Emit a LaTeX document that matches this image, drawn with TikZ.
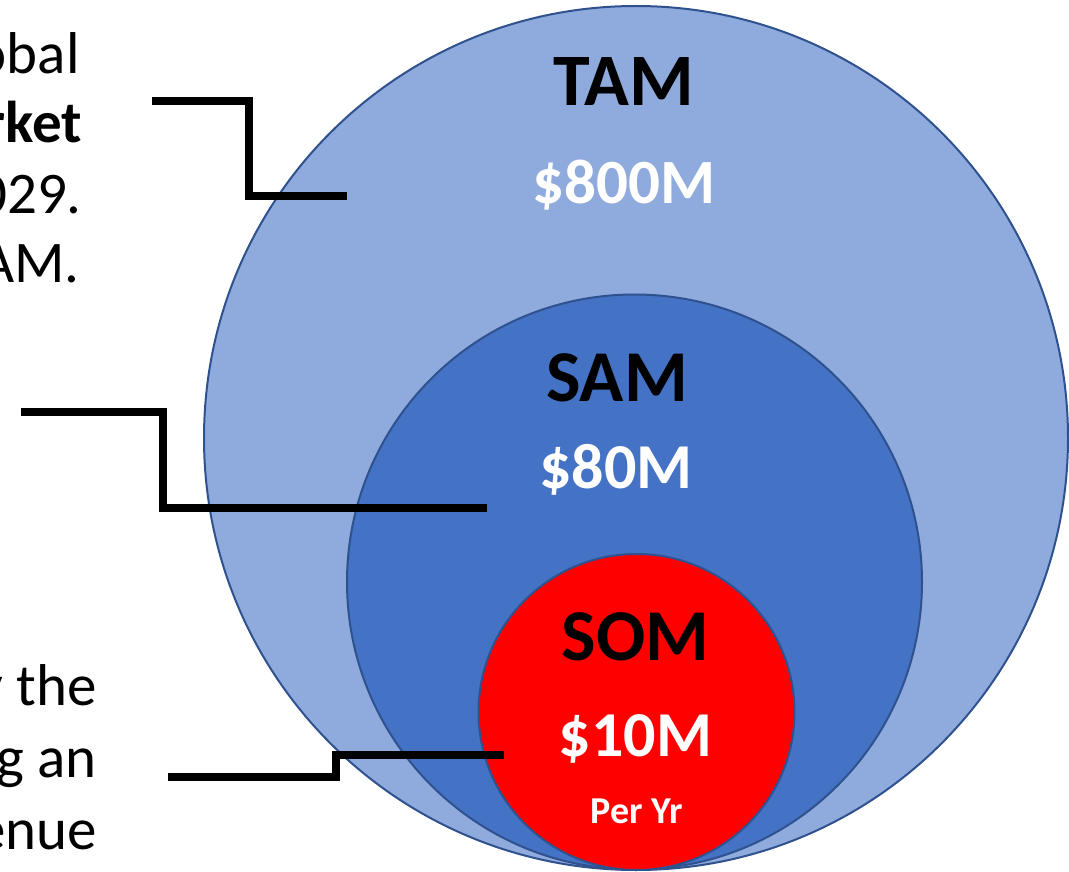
\documentclass[tikz,border=0pt]{standalone}
\usepackage{fontspec}
\setmainfont{Carlito}
\definecolor{tamfill}{HTML}{8FAADC}
\definecolor{samfill}{HTML}{4472C4}
\definecolor{somfill}{HTML}{FF0000}
\definecolor{ringline}{HTML}{2F528F}
\tikzset{
  ring/.style={circle, draw=ringline, line width=2pt, inner sep=0pt},
  leader/.style={draw=black, line width=8pt, line join=miter, line cap=butt},
  lefttext/.style={anchor=base east, inner sep=0pt, font=\fontsize{59}{70}\selectfont},
  head/.style={anchor=base, inner sep=0pt, text=black, font=\bfseries\fontsize{#1}{#1}\selectfont},
  amount/.style={anchor=base, inner sep=0pt, text=white, font=\bfseries\fontsize{#1}{#1}\selectfont}
}
\begin{document}
\begin{tikzpicture}[x=1pt, y=-1pt]
\useasboundingbox (0,0) rectangle (1069,872);
% circles
\node[ring, fill=tamfill, minimum size=864pt] (tam) at (636,438) {};
\node[ring, fill=samfill, minimum size=575pt] (sam) at (634.5,582) {};
\node[ring, fill=somfill, minimum size=316pt] (som) at (636.5,712) {};
% left texts
\node[lefttext] (t1) at (80,74) {obal};
\node[lefttext, font=\bfseries\fontsize{59}{70}\selectfont] (t2) at (82,143) {rket};
\node[lefttext] (t3) at (82,213) {029.};
\node[lefttext] (t4) at (80,282) {AM.};
\node[lefttext] (b1) at (97,705) {y the};
\node[lefttext] (b2) at (97,777) {g an};
\node[lefttext] (b3) at (97,849) {enue};
% connectors
\coordinate (c1s) at (152,101.5);
\coordinate (c1e) at (347,196.5);
\coordinate (c2s) at (21,412);
\coordinate (c2e) at (487,508);
\coordinate (c3s) at (168,777);
\coordinate (c3e) at (504,755);
\draw[leader] (c1s) -- (249,101.5) |- (c1e);
\draw[leader] (c2s) -- (163,412) |- (c2e);
\draw[leader] (c3s) -- (336,777) |- (c3e);
% labels
\node[head=74] (tamlbl) at (624,106) {TAM};
\node[amount=63] (tamval) at (624,204) {\$800M};
\node[head=73] (samlbl) at (617,401) {SAM};
\node[amount=64] (samval) at (616,488) {\$80M};
\node[head=73] (somlbl) at (635.5,660) {SOM};
\node[amount=64] (somval) at (635.5,756) {\$10M};
\node[amount=38] (somper) at (637,823) {Per Yr};
\end{tikzpicture}
\end{document}
